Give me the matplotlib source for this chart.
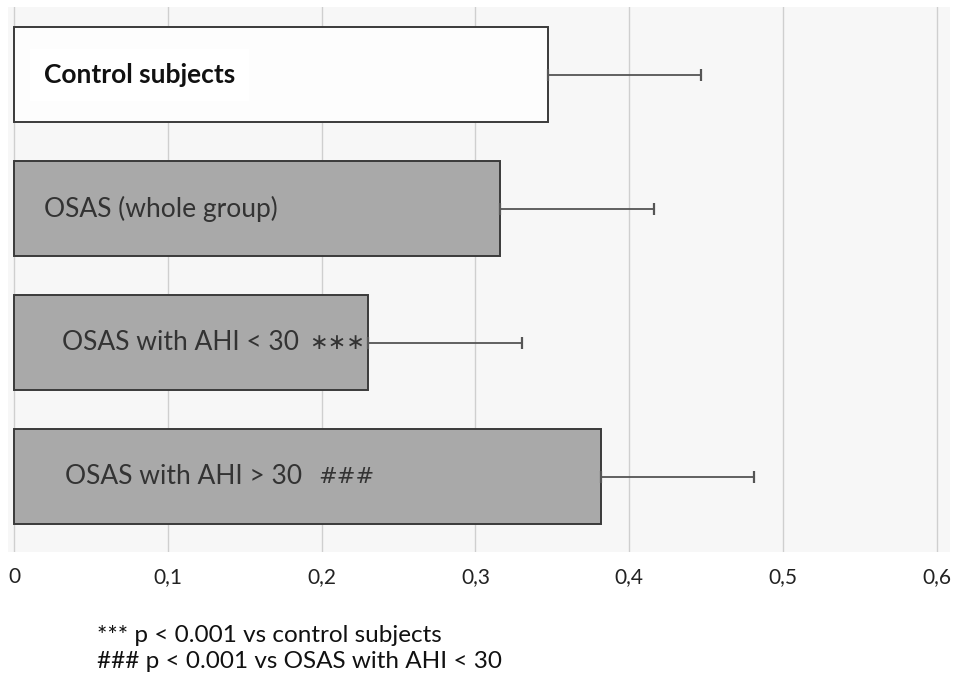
import matplotlib.pyplot as plt
from matplotlib.ticker import FixedLocator, FuncFormatter

# data
groups = ["Control subjects", "OSAS (whole group)",
          "OSAS with AHI < 30", "OSAS with AHI > 30"]
marks = ["", "", "\u2217\u2217\u2217", "###"]
means = [0.347, 0.316, 0.230, 0.382]
errs = [0.100, 0.100, 0.100, 0.099]
label_x = [0.0195, 0.0195, 0.031, 0.033]
mark_x = [0, 0, 0.192, 0.198]
ticks = [0, 0.1, 0.2, 0.3, 0.4, 0.5, 0.6]
notes = ["*** p < 0.001 vs control subjects",
         "### p < 0.001 vs OSAS with AHI < 30"]

plt.rcParams['font.family'] = ['Lato', 'DejaVu Sans']

fig = plt.figure(figsize=(9.54, 6.84), dpi=100)
fig.patch.set_facecolor('white')
ax = fig.add_axes([8/954, 1 - 552/684, 942/954, 545/684])
ax.set_facecolor('#f7f7f7')

ypos = list(range(len(groups)))
colors = ['#fdfdfd', '#a9a9a9', '#a9a9a9', '#a9a9a9']
ax.barh(ypos, means, height=0.71, color=colors, edgecolor='#3a3a3a',
        linewidth=1.4, zorder=3)
ax.errorbar(means, ypos, xerr=[[0]*len(errs), errs], fmt='none',
            ecolor='#555555', elinewidth=1.3, capsize=4, capthick=1.6, zorder=4)

for i, g in enumerate(groups):
    if i == 0:
        ax.text(label_x[i], i, g, fontsize=19, fontweight='bold', color='#111111',
                va='center', ha='left', zorder=5,
                bbox=dict(facecolor='white', edgecolor='none', pad=10))
    else:
        ax.text(label_x[i], i, g, fontsize=19, color='#333333',
                va='center', ha='left', zorder=5)
    if marks[i]:
        ax.text(mark_x[i], i, marks[i], fontsize=16, color='#333333',
                family='DejaVu Sans', va='center', ha='left', zorder=5)

ax.set_xlim(-0.0039, 0.6086)
ax.set_ylim(3.563, -0.504)
ax.xaxis.set_major_locator(FixedLocator(ticks))
ax.xaxis.set_major_formatter(FuncFormatter(lambda v, p: ('%g' % round(v, 1)).replace('.', ',')))
ax.set_yticks([])
ax.grid(axis='x', color='#cfcfcf', linewidth=1.0, zorder=0)
ax.tick_params(axis='x', length=0, pad=11, labelsize=15, labelcolor='#222222')
for s in ax.spines.values():
    s.set_visible(False)

fig.text(97/954, 1 - 636/684, notes[0], fontsize=17.5, color='#111111', va='center')
fig.text(97/954, 1 - 661/684, notes[1], fontsize=17.5, color='#111111', va='center')

fig.savefig('out.png', dpi=100)
